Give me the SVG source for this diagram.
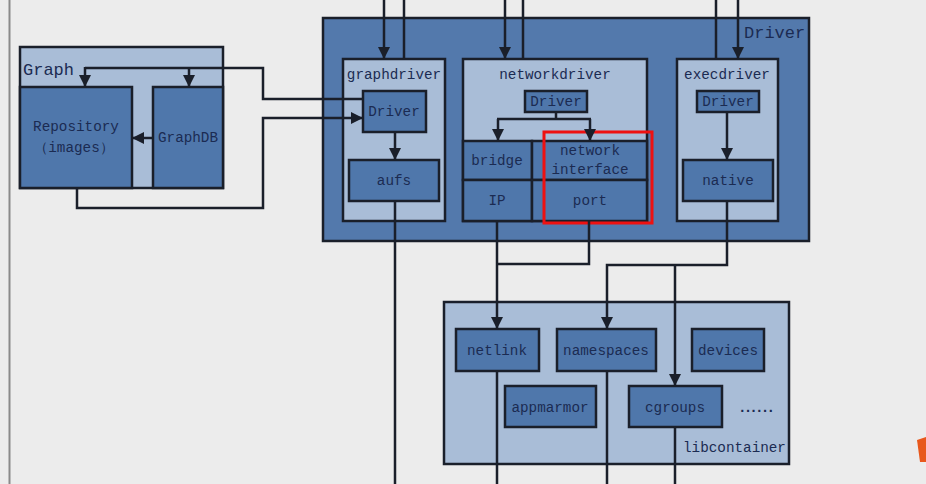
<svg xmlns="http://www.w3.org/2000/svg" width="926" height="484" viewBox="0 0 926 484">
<style>
.bg{fill:#ececec}
.outer{fill:#5379ac;stroke:#1a1f2a;stroke-width:2.5}
.light{fill:#a9bdd7;stroke:#1a1f2a;stroke-width:2.5}
.dark{fill:#4f77ab;stroke:#1a1f2a;stroke-width:2.5}
.ln{fill:none;stroke:#1a1f2a;stroke-width:2.5}
.arr{marker-end:url(#ah)}
text{font-family:"Liberation Mono","DejaVu Sans Mono",monospace;fill:#1b2b52;font-size:14.3px}
.c{text-anchor:middle}
.big{font-size:17px}
</style>
<defs>
<marker id="ah" markerUnits="userSpaceOnUse" markerWidth="12" markerHeight="12" viewBox="0 0 12 12" refX="12" refY="6" orient="auto">
<path d="M0,0 L12,6 L0,12 Z" fill="#1a1f2a"/>
</marker>
</defs>
<rect class="bg" x="0" y="0" width="926" height="484"/>
<line x1="9.5" y1="0" x2="9.5" y2="484" stroke="#8a8a8a" stroke-width="2"/>

<g id="graph">
<rect class="light" x="20" y="47" width="203" height="141"/>
<text class="big" x="23" y="75">Graph</text>
</g>
<g id="repository">
<rect class="dark" x="20" y="87" width="112" height="101"/>
<text class="c" x="76" y="131">Repository</text>
<text class="c" x="74" y="152">（images）</text>
</g>
<g id="graphdb">
<rect class="dark" x="153" y="87" width="70" height="101"/>
<text class="c" x="188" y="142">GraphDB</text>
</g>

<g id="driver">
<rect class="outer" x="323" y="18" width="486" height="223"/>
<text class="big" x="744" y="38">Driver</text>
</g>

<g id="graphdriver">
<rect class="light" x="343" y="59" width="102" height="162"/>
<text class="c" x="394" y="79">graphdriver</text>
</g>
<g id="graphdriver-driver">
<rect class="dark" x="363" y="91" width="63" height="41"/>
<text class="c" x="394" y="116">Driver</text>
</g>
<g id="aufs">
<rect class="dark" x="349" y="160" width="90" height="41"/>
<text class="c" x="394" y="185">aufs</text>
</g>

<g id="networkdriver">
<rect class="light" x="463" y="59" width="184" height="162"/>
<text class="c" x="555" y="79">networkdriver</text>
</g>
<g id="networkdriver-driver">
<rect class="dark" x="525" y="91" width="62" height="21"/>
<text class="c" x="556" y="106">Driver</text>
</g>
<g id="bridge">
<rect class="dark" x="463" y="141" width="69" height="39"/>
<text class="c" x="497" y="165">bridge</text>
</g>
<g id="ip">
<rect class="dark" x="463" y="180" width="69" height="41"/>
<text class="c" x="497" y="205">IP</text>
</g>
<g id="network-interface">
<rect class="dark" x="532" y="141" width="115" height="39"/>
<text class="c" x="590" y="155">network</text>
<text class="c" x="590" y="174">interface</text>
</g>
<g id="port">
<rect class="dark" x="532" y="180" width="115" height="41"/>
<text class="c" x="590" y="205">port</text>
</g>
<g id="highlight">
<rect x="544" y="132" width="108" height="91" fill="none" stroke="#ee1111" stroke-width="3"/>
</g>

<g id="execdriver">
<rect class="light" x="677" y="59" width="101" height="162"/>
<text class="c" x="727" y="79">execdriver</text>
</g>
<g id="execdriver-driver">
<rect class="dark" x="697" y="91" width="62" height="21"/>
<text class="c" x="728" y="106">Driver</text>
</g>
<g id="native">
<rect class="dark" x="683" y="160" width="90" height="41"/>
<text class="c" x="728" y="185">native</text>
</g>

<g id="libcontainer">
<rect class="light" x="444" y="302" width="345" height="162"/>
<text x="683" y="452">libcontainer</text>
<text x="738" y="412" textLength="37" lengthAdjust="spacing" font-weight="bold">......</text>
</g>
<g id="netlink">
<rect class="dark" x="456" y="329" width="83" height="42"/>
<text class="c" x="497" y="355">netlink</text>
</g>
<g id="namespaces">
<rect class="dark" x="557" y="329" width="99" height="42"/>
<text class="c" x="606" y="355">namespaces</text>
</g>
<g id="devices">
<rect class="dark" x="692" y="329" width="72" height="42"/>
<text class="c" x="728" y="355">devices</text>
</g>
<g id="appmarmor">
<rect class="dark" x="505" y="386" width="91" height="41"/>
<text class="c" x="550" y="412">appmarmor</text>
</g>
<g id="cgroups">
<rect class="dark" x="629" y="386" width="93" height="41"/>
<text class="c" x="675" y="412">cgroups</text>
</g>

<g id="connectors">
<path class="ln" d="M363,99 H263 V68 H85"/>
<path class="ln arr" d="M85,67 V87"/>
<path class="ln arr" d="M189,68 V87"/>
<path class="ln arr" d="M77,188 V208 H263 V118 H363"/>
<path class="ln arr" d="M153,138 H132"/>
<path class="ln arr" d="M384,0 V59"/>
<path class="ln" d="M404,0 V59"/>
<path class="ln arr" d="M505,0 V59"/>
<path class="ln" d="M523,0 V59"/>
<path class="ln" d="M716,0 V59"/>
<path class="ln arr" d="M738,0 V59"/>
<path class="ln arr" d="M395,132 V160"/>
<path class="ln" d="M395,201 V484"/>
<path class="ln" d="M556,112 V119 M497,119 H591"/>
<path class="ln arr" d="M498,119 V141"/>
<path class="ln arr" d="M590,119 V141"/>
<path class="ln arr" d="M727,112 V160"/>
<path class="ln arr" d="M497,221 V329"/>
<path class="ln" d="M497,371 V484"/>
<path class="ln" d="M589,221 V264 H497"/>
<path class="ln arr" d="M727,201 V265 H607 V329"/>
<path class="ln arr" d="M675,265 V386"/>
<path class="ln" d="M607,371 V484"/>
<path class="ln" d="M675,427 V484"/>
</g>

<path d="M917,440 L926,437 L926,462 L920,462 Z" fill="#e8581c"/>
</svg>
